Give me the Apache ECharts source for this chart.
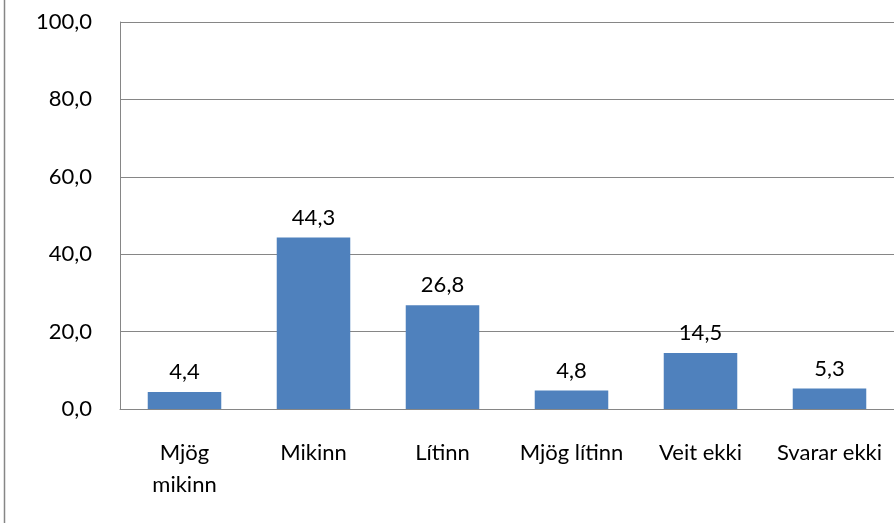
<!DOCTYPE html>
<html><head><meta charset="utf-8">
<script src="https://cdn.jsdelivr.net/npm/echarts@6/dist/echarts.min.js"></script>
<style>html,body{margin:0;padding:0;background:#fff}#c{width:894px;height:523px}</style>
</head><body><div id="c"></div>
<script>
const categories = ['Mjög\nmikinn', 'Mikinn', 'Lítinn', 'Mjög lítinn', 'Veit ekki', 'Svarar ekki'];
const values = [4.4, 44.3, 26.8, 4.8, 14.5, 5.3];
const yTicks = [0, 20, 40, 60, 80, 100];
const fmt = v => v.toFixed(1).replace('.', ',');
const font = 'Lato, "Open Sans", sans-serif';
const chart = echarts.init(document.getElementById('c'));
chart.setOption({
  animation: false,
  graphic: [{type: 'line', shape: {x1: 4.5, y1: 0, x2: 4.5, y2: 523}, style: {stroke: '#868686', lineWidth: 1.5}}],
  grid: {left: 120, right: -2, top: 22, bottom: 114, containLabel: false},
  xAxis: {
    type: 'category', data: categories,
    axisLine: {lineStyle: {color: '#868686'}},
    axisTick: {show: false},
    axisLabel: {color: '#000', fontFamily: font, fontSize: 22, margin: 28, lineHeight: 32, interval: 0, hideOverlap: false}
  },
  yAxis: {
    type: 'value', min: 0, max: 100, interval: 20,
    axisLine: {show: true, lineStyle: {color: '#868686'}},
    axisTick: {show: false},
    splitLine: {lineStyle: {color: '#868686'}},
    axisLabel: {color: '#000', fontFamily: font, fontSize: 22, margin: 28, formatter: v => fmt(v)}
  },
  series: [{
    type: 'bar', data: values, barWidth: '57%',
    itemStyle: {color: '#4f81bd'},
    label: {show: true, position: 'top', distance: 9, color: '#000', fontFamily: font, fontSize: 22, formatter: p => fmt(p.value)}
  }]
});
</script></body></html>
